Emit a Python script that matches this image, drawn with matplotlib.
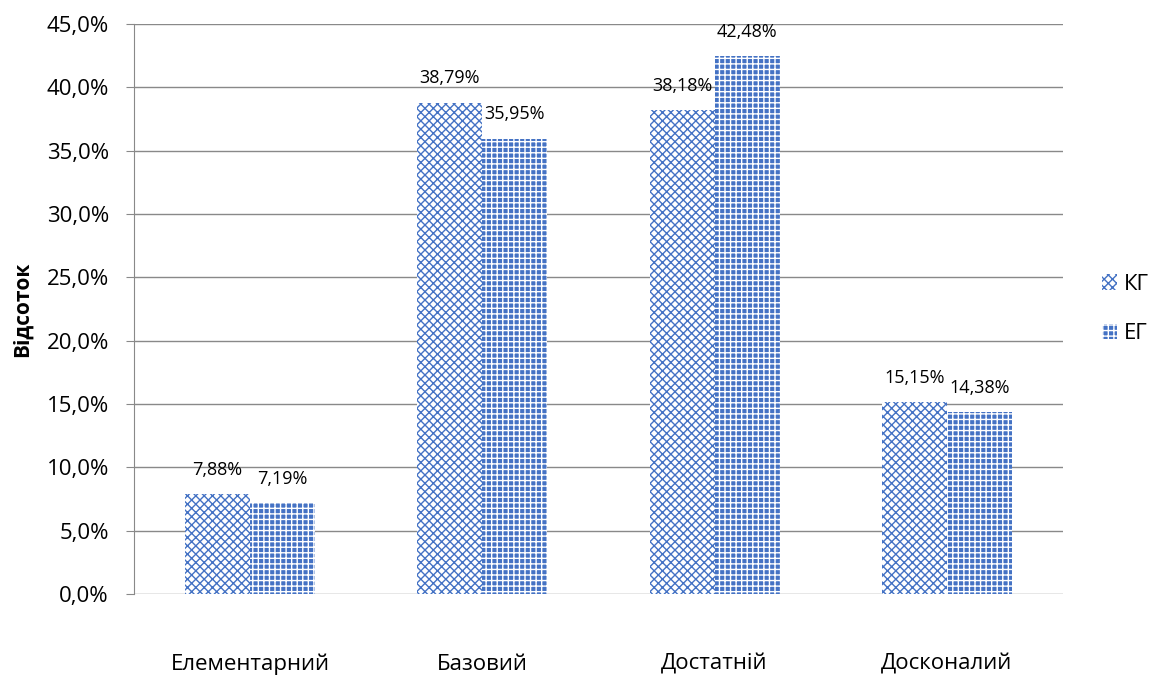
import matplotlib
matplotlib.use('Agg')

import numpy as np
import matplotlib.pyplot as plt
from matplotlib.ticker import FuncFormatter

plt.rcParams['font.family'] = ['Open Sans', 'DejaVu Sans']
plt.rcParams['hatch.linewidth'] = 1.0

# рівні та частки груп (%)
levels = ['Елементарний', 'Базовий', 'Достатній', 'Досконалий']
kg = [7.88, 38.79, 38.18, 15.15]
eg = [7.19, 35.95, 42.48, 14.38]
labels_kg = ['7,88%', '38,79%', '38,18%', '15,15%']
labels_eg = ['7,19%', '35,95%', '42,48%', '14,38%']

blue = '#4472C4'
grey = '#898989'
x = np.arange(len(levels))
w = 0.28

fig = plt.figure(figsize=(11.52, 6.75), dpi=100)
ax = fig.add_axes([0.1163, 0.12, 0.8064, 0.8444])

b1 = ax.bar(x - w / 2, kg, w, facecolor='white', edgecolor=blue, hatch='xxxx',
            linewidth=0, label='КГ')
b2 = ax.bar(x + w / 2, eg, w, facecolor=blue, edgecolor='white', hatch='+++',
            linewidth=0, label='ЕГ')

# підписи значень над стовпцями
for bars, labs in ((b1, labels_kg), (b2, labels_eg)):
    for rect, lab in zip(bars, labs):
        ax.annotate(lab, (rect.get_x() + rect.get_width() / 2, rect.get_height()),
                    xytext=(0, 11), textcoords='offset points',
                    ha='center', va='bottom', fontsize=13)

ax.set_ylim(0, 45)
ax.set_xlim(-0.5, 3.5)
ax.set_yticks(np.arange(0, 46, 5))
ax.yaxis.set_major_formatter(FuncFormatter(lambda v, p: f'{v:.1f}%'.replace('.', ',')))
ax.set_xticks(x)
ax.set_xticklabels(levels, fontsize=16)
ax.tick_params(axis='x', length=0, pad=43)
ax.tick_params(axis='y', labelsize=16, length=6, color=grey, pad=12)

ax.grid(axis='y', color=grey, linewidth=1)
ax.set_axisbelow(True)
for s in ('top', 'right', 'bottom'):
    ax.spines[s].set_visible(False)
ax.spines['left'].set_color(grey)

ax.set_ylabel('Відсоток', fontsize=15, fontweight='bold', labelpad=10)

ax.legend(loc='center left', bbox_to_anchor=(1.02, 0.5), frameon=False,
          fontsize=16, handlelength=0.7, handleheight=0.7, handletextpad=0.3,
          labelspacing=1.3)

fig.savefig('out.png', dpi=100)
